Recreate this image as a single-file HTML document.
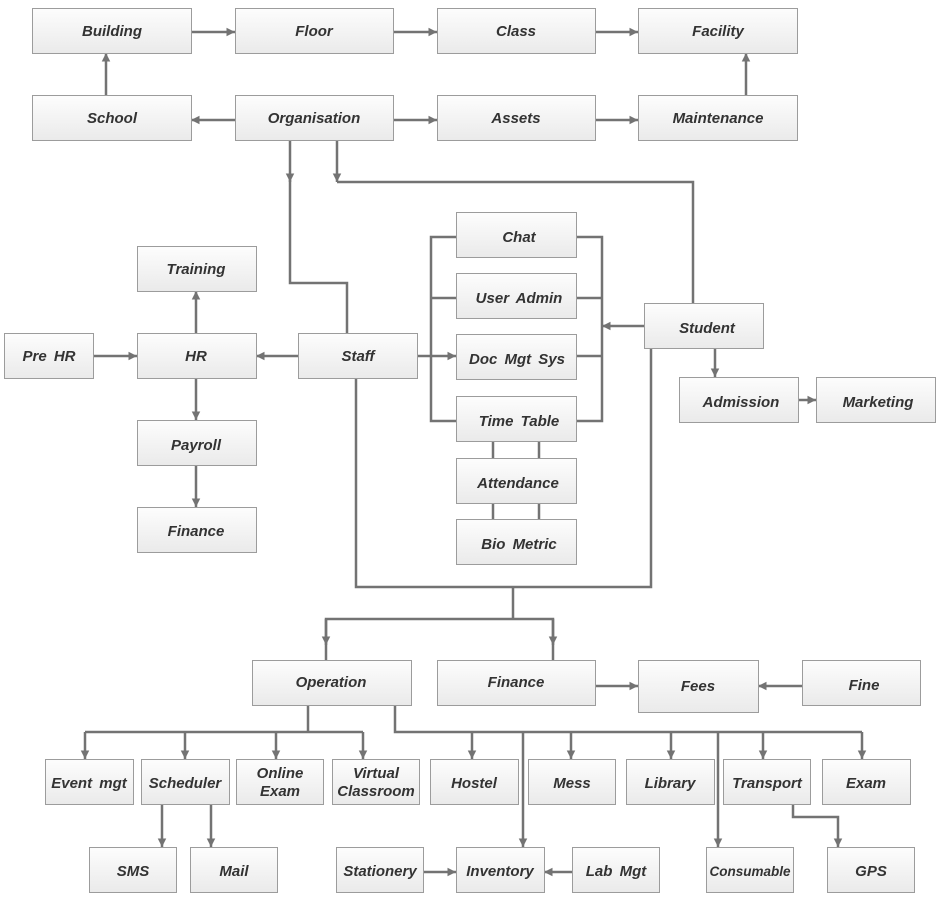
<!DOCTYPE html>
<html><head><meta charset="utf-8"><style>
html,body{margin:0;padding:0;background:#fff;}
svg{display:block;}
text{font-family:"Liberation Sans",sans-serif;font-style:italic;font-weight:bold;font-size:15px;fill:#333;text-anchor:middle;}
</style></head><body>
<svg width="950" height="907" viewBox="0 0 950 907" xmlns="http://www.w3.org/2000/svg">
<defs>
<linearGradient id="g" x1="0" y1="0" x2="0" y2="1"><stop offset="0" stop-color="#fdfdfd"/><stop offset="1" stop-color="#eaeaea"/></linearGradient>
<marker id="a" viewBox="0 0 10 10" refX="10" refY="5" markerWidth="3.4" markerHeight="3.6" orient="auto" markerUnits="strokeWidth"><path d="M0,0L10,5L0,10z" fill="#737373"/></marker>
</defs>
<g fill="none" stroke="#737373" stroke-width="2.5">
<!-- top rows -->
<path d="M191,32H235" marker-end="url(#a)"/>
<path d="M393,32H437" marker-end="url(#a)"/>
<path d="M595,32H638" marker-end="url(#a)"/>
<path d="M106,95V53" marker-end="url(#a)"/>
<path d="M235,120H191" marker-end="url(#a)"/>
<path d="M393,120H437" marker-end="url(#a)"/>
<path d="M595,120H638" marker-end="url(#a)"/>
<path d="M746,95V53" marker-end="url(#a)"/>
<!-- org to staff -->
<path d="M290,140V182" marker-end="url(#a)"/>
<path d="M290,180V283H347V333"/>
<path d="M337,140V182" marker-end="url(#a)"/>
<path d="M337,182H693V303"/>
<!-- HR cluster -->
<path d="M298,356H256" marker-end="url(#a)"/>
<path d="M93,356H137" marker-end="url(#a)"/>
<path d="M196,333V291" marker-end="url(#a)"/>
<path d="M196,378V420" marker-end="url(#a)"/>
<path d="M196,465V507" marker-end="url(#a)"/>
<!-- staff to doc -->
<path d="M417,356H456" marker-end="url(#a)"/>
<path d="M456,237H431V421H456M431,298H456"/>
<path d="M576,237H602V421H576M576,298H602M576,356H602"/>
<path d="M644,326H602" marker-end="url(#a)"/>
<path d="M493,441V458M539,441V458M493,503V519M539,503V519"/>
<!-- student -->
<path d="M715,348V377" marker-end="url(#a)"/>
<path d="M798,400H816" marker-end="url(#a)"/>
<!-- staff/student to operation/finance -->
<path d="M356,378V587H651V348"/>
<path d="M513,587V619H326V660M513,619H553V660"/>
<path d="M326,619V645" marker-end="url(#a)"/>
<path d="M553,619V645" marker-end="url(#a)"/>
<path d="M595,686H638" marker-end="url(#a)"/>
<path d="M802,686H758" marker-end="url(#a)"/>
<!-- operation children -->
<path d="M308,706V732M85,732H363M395,706V732H862"/>
<path d="M85,732V759" marker-end="url(#a)"/>
<path d="M185,732V759" marker-end="url(#a)"/>
<path d="M276,732V759" marker-end="url(#a)"/>
<path d="M363,732V759" marker-end="url(#a)"/>
<path d="M472,732V759" marker-end="url(#a)"/>
<path d="M571,732V759" marker-end="url(#a)"/>
<path d="M671,732V759" marker-end="url(#a)"/>
<path d="M763,732V759" marker-end="url(#a)"/>
<path d="M862,732V759" marker-end="url(#a)"/>
<path d="M523,732V847" marker-end="url(#a)"/>
<path d="M718,732V847" marker-end="url(#a)"/>
<path d="M162,804V847" marker-end="url(#a)"/>
<path d="M211,804V847" marker-end="url(#a)"/>
<path d="M423,872H456" marker-end="url(#a)"/>
<path d="M572,872H544" marker-end="url(#a)"/>
<path d="M793,804V817H838V847" marker-end="url(#a)"/>
</g>
<g fill="url(#g)" stroke="#9c9c9c" stroke-width="1">
<rect x="32.5" y="8.5" width="159" height="45"/>
<rect x="235.5" y="8.5" width="158" height="45"/>
<rect x="437.5" y="8.5" width="158" height="45"/>
<rect x="638.5" y="8.5" width="159" height="45"/>
<rect x="32.5" y="95.5" width="159" height="45"/>
<rect x="235.5" y="95.5" width="158" height="45"/>
<rect x="437.5" y="95.5" width="158" height="45"/>
<rect x="638.5" y="95.5" width="159" height="45"/>
<rect x="137.5" y="246.5" width="119" height="45"/>
<rect x="4.5" y="333.5" width="89" height="45"/>
<rect x="137.5" y="333.5" width="119" height="45"/>
<rect x="298.5" y="333.5" width="119" height="45"/>
<rect x="456.5" y="212.5" width="120" height="45"/>
<rect x="456.5" y="273.5" width="120" height="45"/>
<rect x="456.5" y="334.5" width="120" height="45"/>
<rect x="456.5" y="396.5" width="120" height="45"/>
<rect x="456.5" y="458.5" width="120" height="45"/>
<rect x="456.5" y="519.5" width="120" height="45"/>
<rect x="644.5" y="303.5" width="119" height="45"/>
<rect x="679.5" y="377.5" width="119" height="45"/>
<rect x="816.5" y="377.5" width="119" height="45"/>
<rect x="137.5" y="420.5" width="119" height="45"/>
<rect x="137.5" y="507.5" width="119" height="45"/>
<rect x="252.5" y="660.5" width="159" height="45"/>
<rect x="437.5" y="660.5" width="158" height="45"/>
<rect x="638.5" y="660.5" width="120" height="52"/>
<rect x="802.5" y="660.5" width="118" height="45"/>
<rect x="45.5" y="759.5" width="88" height="45"/>
<rect x="141.5" y="759.5" width="88" height="45"/>
<rect x="236.5" y="759.5" width="87" height="45"/>
<rect x="332.5" y="759.5" width="87" height="45"/>
<rect x="430.5" y="759.5" width="88" height="45"/>
<rect x="528.5" y="759.5" width="87" height="45"/>
<rect x="626.5" y="759.5" width="88" height="45"/>
<rect x="723.5" y="759.5" width="87" height="45"/>
<rect x="822.5" y="759.5" width="88" height="45"/>
<rect x="89.5" y="847.5" width="87" height="45"/>
<rect x="190.5" y="847.5" width="87" height="45"/>
<rect x="336.5" y="847.5" width="87" height="45"/>
<rect x="456.5" y="847.5" width="88" height="45"/>
<rect x="572.5" y="847.5" width="87" height="45"/>
<rect x="706.5" y="847.5" width="87" height="45"/>
<rect x="827.5" y="847.5" width="87" height="45"/>
</g>
<g>
<text x="112" y="36">Building</text>
<text x="314" y="36">Floor</text>
<text x="516" y="36">Class</text>
<text x="718" y="36">Facility</text>
<text x="112" y="123">School</text>
<text x="314" y="123">Organisation</text>
<text x="516" y="123">Assets</text>
<text x="718" y="123">Maintenance</text>
<text x="196" y="274">Training</text>
<text x="49" y="361" word-spacing="3">Pre HR</text>
<text x="196" y="361">HR</text>
<text x="358" y="361">Staff</text>
<text x="519" y="242">Chat</text>
<text x="519" y="303" word-spacing="3">User Admin</text>
<text x="517" y="364" word-spacing="3">Doc Mgt Sys</text>
<text x="519" y="426" word-spacing="3">Time Table</text>
<text x="518" y="488">Attendance</text>
<text x="519" y="549" word-spacing="3">Bio Metric</text>
<text x="707" y="333">Student</text>
<text x="741" y="407">Admission</text>
<text x="878" y="407">Marketing</text>
<text x="196" y="450">Payroll</text>
<text x="196" y="536">Finance</text>
<text x="331" y="687">Operation</text>
<text x="516" y="687">Finance</text>
<text x="698" y="691">Fees</text>
<text x="864" y="690">Fine</text>
<text x="89" y="788" word-spacing="3">Event mgt</text>
<text x="185" y="788">Scheduler</text>
<text x="280" y="778">Online</text>
<text x="280" y="796">Exam</text>
<text x="376" y="778">Virtual</text>
<text x="376" y="796">Classroom</text>
<text x="474" y="788">Hostel</text>
<text x="572" y="788">Mess</text>
<text x="670" y="788">Library</text>
<text x="767" y="788">Transport</text>
<text x="866" y="788">Exam</text>
<text x="133" y="876">SMS</text>
<text x="234" y="876">Mail</text>
<text x="380" y="876">Stationery</text>
<text x="500" y="876">Inventory</text>
<text x="616" y="876" word-spacing="3">Lab Mgt</text>
<text x="750" y="876" style="font-size:13.5px">Consumable</text>
<text x="871" y="876">GPS</text>
</g>
</svg>
</body></html>
